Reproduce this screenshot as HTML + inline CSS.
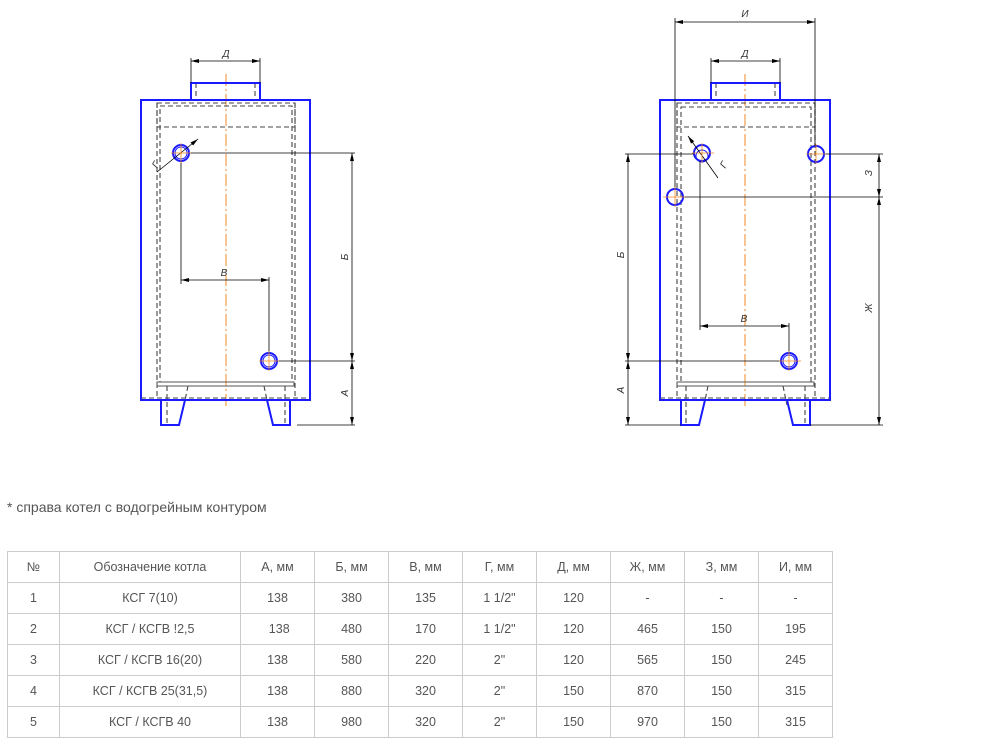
<!DOCTYPE html>
<html><head><meta charset="utf-8"><style>
html,body{margin:0;padding:0;background:#fff;width:988px;height:741px;overflow:hidden}
body{position:relative;font-family:"Liberation Sans",Arial,sans-serif;color:#555}
svg{position:absolute;left:0;top:0}
.note{position:absolute;left:7px;top:499px;font-size:14px;color:#555}
table{position:absolute;left:7px;top:551px;border-collapse:collapse;font-size:12.5px;color:#555}
td{border:1px solid #ccc;text-align:center;height:30px;padding:0}
</style></head><body>
<svg width="988" height="470" viewBox="0 0 988 470">
<defs>
<marker id="ar" markerWidth="8" markerHeight="6" refX="8" refY="3" orient="auto-start-reverse" markerUnits="userSpaceOnUse"><path d="M0,1 L8,3 L0,5z" fill="#000"/></marker>
</defs>
<!-- LEFT -->
<g fill="none">
<line x1="226" y1="74" x2="226" y2="408" stroke="#f08a24" stroke-width="1" stroke-dasharray="12,3,2,3"/>
<g stroke="#444" stroke-width="1.1" stroke-dasharray="5,3">
<rect x="160" y="106" width="132" height="276"/>
<rect x="157" y="103" width="138" height="24"/>
<line x1="157" y1="103" x2="157" y2="400"/><line x1="295" y1="103" x2="295" y2="400"/>
<line x1="196" y1="83" x2="196" y2="100"/><line x1="255" y1="83" x2="255" y2="100"/>
<line x1="141" y1="398" x2="310" y2="398"/>
<line x1="167" y1="386" x2="167" y2="425"/><line x1="285" y1="386" x2="285" y2="425"/>
<line x1="188" y1="386" x2="184" y2="405"/><line x1="264" y1="386" x2="268" y2="405"/>
</g>
<rect x="157" y="382" width="137" height="4" stroke="#555" stroke-width="1"/>
<g stroke="#1a1aff" stroke-width="2">
<rect x="141" y="100" width="169" height="300"/>
<path d="M191,100 V83 H260 V100"/>
<path d="M161,400 V425 H179 L185,400"/>
<path d="M267,400 L273,425 H290 V400"/>
<circle cx="181" cy="153" r="8"/><circle cx="181" cy="153" r="6" stroke-width="1"/>
<circle cx="269" cy="361" r="8"/><circle cx="269" cy="361" r="6" stroke-width="1"/>
</g>
<g stroke="#000" stroke-width="0.8">
<line x1="191" y1="58" x2="191" y2="83"/><line x1="260" y1="58" x2="260" y2="83"/>
<line x1="191" y1="61" x2="260" y2="61" marker-start="url(#ar)" marker-end="url(#ar)"/>
<line x1="189" y1="153" x2="355" y2="153"/><line x1="277" y1="361" x2="355" y2="361"/>
<line x1="297" y1="425" x2="355" y2="425"/>
<line x1="352" y1="153" x2="352" y2="361" marker-start="url(#ar)" marker-end="url(#ar)"/>
<line x1="352" y1="361" x2="352" y2="425" marker-start="url(#ar)" marker-end="url(#ar)"/>
<line x1="181" y1="161" x2="181" y2="284"/><line x1="269" y1="277" x2="269" y2="353"/>
<line x1="181" y1="280" x2="269" y2="280" marker-start="url(#ar)" marker-end="url(#ar)"/>
<line x1="157" y1="172" x2="198" y2="139" marker-end="url(#ar)"/>
</g>
<g stroke="#f08a24" stroke-width="0.8"><line x1="171" y1="153" x2="191" y2="153"/><line x1="181" y1="143" x2="181" y2="163"/>
<line x1="259" y1="361" x2="279" y2="361"/><line x1="269" y1="351" x2="269" y2="371"/></g>
</g>
<!-- RIGHT -->
<g fill="none">
<line x1="745" y1="74" x2="745" y2="408" stroke="#f08a24" stroke-width="1" stroke-dasharray="12,3,2,3"/>
<g stroke="#444" stroke-width="1.1" stroke-dasharray="5,3">
<rect x="681" y="107" width="130" height="275"/>
<rect x="677" y="103" width="138" height="24"/>
<line x1="677" y1="103" x2="677" y2="400"/><line x1="815" y1="103" x2="815" y2="400"/>
<line x1="716" y1="83" x2="716" y2="100"/><line x1="775" y1="83" x2="775" y2="100"/>
<line x1="660" y1="398" x2="830" y2="398"/>
<line x1="686" y1="386" x2="686" y2="425"/><line x1="805" y1="386" x2="805" y2="425"/>
<line x1="708" y1="386" x2="704" y2="405"/><line x1="783" y1="386" x2="787" y2="405"/>
</g>
<rect x="677" y="382" width="137" height="4" stroke="#555" stroke-width="1"/>
<g stroke="#1a1aff" stroke-width="2">
<rect x="660" y="100" width="170" height="300"/>
<path d="M711,100 V83 H780 V100"/>
<path d="M681,400 V425 H699 L705,400"/>
<path d="M787,400 L793,425 H810 V400"/>
<circle cx="702" cy="153" r="8"/><circle cx="702" cy="156" r="6" stroke-width="1"/>
<circle cx="789" cy="361" r="8"/><circle cx="789" cy="361" r="6" stroke-width="1"/>
<circle cx="816" cy="154" r="8"/><circle cx="675" cy="197" r="8"/>
</g>
<g stroke="#000" stroke-width="0.8">
<line x1="675" y1="18" x2="675" y2="189"/><line x1="815" y1="18" x2="815" y2="146"/>
<line x1="675" y1="22" x2="815" y2="22" marker-start="url(#ar)" marker-end="url(#ar)"/>
<line x1="711" y1="58" x2="711" y2="83"/><line x1="780" y1="58" x2="780" y2="83"/>
<line x1="711" y1="61" x2="780" y2="61" marker-start="url(#ar)" marker-end="url(#ar)"/>
<line x1="625" y1="154" x2="694" y2="154"/><line x1="824" y1="154" x2="883" y2="154"/>
<line x1="683" y1="197" x2="883" y2="197"/>
<line x1="625" y1="361" x2="781" y2="361"/>
<line x1="625" y1="425" x2="681" y2="425"/><line x1="810" y1="425" x2="883" y2="425"/>
<line x1="628" y1="154" x2="628" y2="361" marker-start="url(#ar)" marker-end="url(#ar)"/>
<line x1="628" y1="361" x2="628" y2="425" marker-start="url(#ar)" marker-end="url(#ar)"/>
<line x1="879" y1="154" x2="879" y2="197" marker-start="url(#ar)" marker-end="url(#ar)"/>
<line x1="879" y1="197" x2="879" y2="425" marker-start="url(#ar)" marker-end="url(#ar)"/>
<line x1="700" y1="161" x2="700" y2="330"/><line x1="789" y1="323" x2="789" y2="353"/>
<line x1="700" y1="326" x2="789" y2="326" marker-start="url(#ar)" marker-end="url(#ar)"/>
<line x1="688" y1="136" x2="718" y2="178" marker-start="url(#ar)"/>
</g>
<g stroke="#f08a24" stroke-width="0.8">
<line x1="692" y1="153" x2="714" y2="153"/><line x1="702" y1="143" x2="702" y2="163"/>
<line x1="779" y1="361" x2="801" y2="361"/><line x1="789" y1="351" x2="789" y2="371"/>
<line x1="806" y1="154" x2="826" y2="154"/><line x1="816" y1="144" x2="816" y2="164"/>
<line x1="663" y1="197" x2="685" y2="197"/><line x1="675" y1="187" x2="675" y2="207"/>
</g>
</g>
<g font-family="Liberation Sans,sans-serif" font-size="10" font-style="italic" fill="#333" text-anchor="middle">
<text x="226" y="57">Д</text><text x="224" y="276">В</text>
<text x="345" y="260" transform="rotate(-90 345 257)">Б</text>
<text x="345" y="396" transform="rotate(-90 345 393)">А</text>
<text x="156" y="168" transform="rotate(-60 156 165)">Г</text>
<text x="745" y="17">И</text><text x="745" y="57">Д</text><text x="744" y="322">В</text>
<text x="624" y="261" transform="rotate(-90 621 258)">Б</text>
<text x="624" y="396" transform="rotate(-90 621 393)">А</text>
<text x="872" y="179" transform="rotate(-90 869 176)">З</text>
<text x="872" y="314" transform="rotate(-90 869 311)">Ж</text>
<text x="724" y="168" transform="rotate(-60 724 165)">Г</text>
</g>
</svg>
<div class="note">* справа котел с водогрейным контуром</div>
<table>
<colgroup><col style="width:52px"><col style="width:181px"><col style="width:74px"><col style="width:74px"><col style="width:74px"><col style="width:74px"><col style="width:74px"><col style="width:74px"><col style="width:74px"><col style="width:74px"></colgroup>
<tr><td>№</td><td>Обозначение котла</td><td>А, мм</td><td>Б, мм</td><td>В, мм</td><td>Г, мм</td><td>Д, мм</td><td>Ж, мм</td><td>З, мм</td><td>И, мм</td></tr>
<tr><td>1</td><td>КСГ 7(10)</td><td>138</td><td>380</td><td>135</td><td>1 1/2"</td><td>120</td><td>-</td><td>-</td><td>-</td></tr>
<tr><td>2</td><td>КСГ / КСГВ !2,5</td><td>&nbsp;138</td><td>480</td><td>170</td><td>1 1/2"</td><td>120</td><td>465</td><td>150</td><td>195</td></tr>
<tr><td>3</td><td>КСГ / КСГВ 16(20)</td><td>138</td><td>580</td><td>220</td><td>2"</td><td>120</td><td>565</td><td>150</td><td>245</td></tr>
<tr><td>4</td><td>КСГ / КСГВ 25(31,5)</td><td>138</td><td>880</td><td>320</td><td>2"</td><td>150</td><td>870</td><td>150</td><td>315</td></tr>
<tr><td>5</td><td>КСГ / КСГВ 40</td><td>138</td><td>980</td><td>320</td><td>2"</td><td>150</td><td>970</td><td>150</td><td>315</td></tr>
</table>
</body></html>
